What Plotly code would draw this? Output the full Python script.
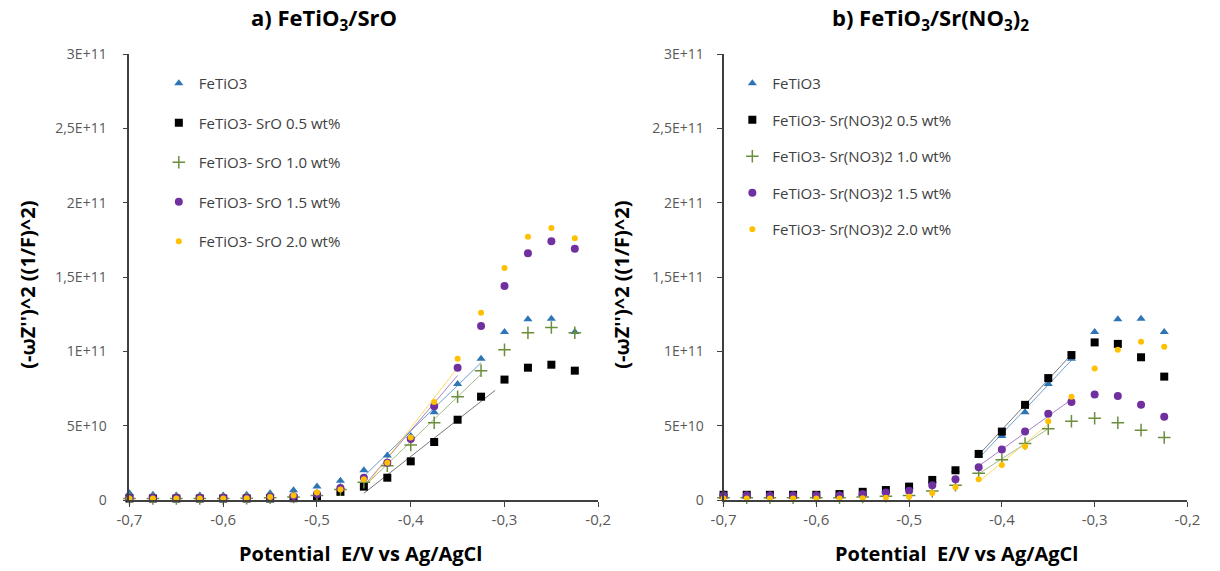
import numpy as np
import plotly.graph_objects as go

# ---------------- data (y values in units of 1E10) ----------------
UNIT = 1e10
potential = [-0.700, -0.675, -0.650, -0.625, -0.600, -0.575, -0.550, -0.525, -0.500, -0.475,
             -0.450, -0.425, -0.400, -0.375, -0.350, -0.325, -0.300, -0.275, -0.250, -0.225]

fetio3 = [0.45, 0.35, 0.30, 0.30, 0.30, 0.35, 0.45, 0.65, 0.90, 1.30,
          2.00, 3.00, 4.30, 5.90, 7.80, 9.50, 11.30, 12.15, 12.20, 11.30]

# panel a) FeTiO3/SrO
sro_05 = [0.10, 0.10, 0.10, 0.10, 0.10, 0.10, 0.10, 0.12, 0.20, 0.55,
          0.90, 1.50, 2.60, 3.90, 5.40, 6.95, 8.10, 8.90, 9.10, 8.70]
sro_10 = [0.10, 0.10, 0.10, 0.10, 0.10, 0.12, 0.15, 0.20, 0.30, 0.70,
          1.20, 2.30, 3.70, 5.20, 6.95, 8.70, 10.10, 11.25, 11.60, 11.25]
sro_15 = [0.15, 0.15, 0.15, 0.15, 0.15, 0.15, 0.20, 0.25, 0.40, 0.80,
          1.50, 2.50, 4.10, 6.30, 8.90, 11.70, 14.40, 16.60, 17.40, 16.90]
sro_20 = [0.10, 0.10, 0.10, 0.10, 0.10, 0.12, 0.20, 0.30, 0.50, 0.70,
          1.40, 2.50, 4.20, 6.60, 9.50, 12.60, 15.60, 17.70, 18.30, 17.60]

# panel b) FeTiO3/Sr(NO3)2
srno3_05 = [0.35, 0.35, 0.35, 0.35, 0.35, 0.40, 0.55, 0.67, 0.90, 1.35,
            2.00, 3.10, 4.60, 6.40, 8.20, 9.75, 10.60, 10.50, 9.60, 8.30]
srno3_10 = [0.15, 0.15, 0.15, 0.15, 0.15, 0.15, 0.20, 0.25, 0.30, 0.60,
            1.00, 1.80, 2.70, 3.80, 4.80, 5.30, 5.50, 5.20, 4.70, 4.20]
srno3_15 = [0.30, 0.30, 0.30, 0.30, 0.30, 0.30, 0.40, 0.50, 0.63, 1.00,
            1.40, 2.20, 3.40, 4.60, 5.80, 6.60, 7.10, 7.00, 6.40, 5.60]
srno3_20 = [0.10, 0.10, 0.10, 0.10, 0.10, 0.10, 0.12, 0.15, 0.22, 0.47,
            0.85, 1.40, 2.35, 3.60, 5.30, 6.95, 8.85, 10.10, 10.65, 10.30]

# linear-fit windows (potential range used for each trend line)
fit_a = {"fetio3": (-0.45, -0.325), "05": (-0.45, -0.31), "10": (-0.45, -0.325),
         "15": (-0.45, -0.35), "20": (-0.45, -0.35)}
fit_b = {"fetio3": (-0.425, -0.325), "05": (-0.425, -0.325), "10": (-0.425, -0.35),
         "15": (-0.425, -0.325), "20": (-0.425, -0.35)}

x_ticks = [-0.7, -0.6, -0.5, -0.4, -0.3, -0.2]
x_ticktext = ["-0,7", "-0,6", "-0,5", "-0,4", "-0,3", "-0,2"]
y_ticks = [0, 5e10, 1e11, 1.5e11, 2e11, 2.5e11, 3e11]
y_ticktext = ["0", "5E+10", "1E+11", "1,5E+11", "2E+11", "2,5E+11", "3E+11"]

# ---------------- styles ----------------
FONT = "'Open Sans', Lato, sans-serif"
styles = {
    "fetio3": dict(symbol="triangle-up", size=8, color="#2E75B6", line=dict(width=0)),
    "05": dict(symbol="square", size=8, color="#000000", line=dict(width=0)),
    "10": dict(symbol="cross-thin", size=9, color="#6B8E3D", line=dict(width=1.5, color="#6B8E3D")),
    "15": dict(symbol="circle", size=8, color="#7030A0", line=dict(width=0)),
    "20": dict(symbol="circle", size=6, color="#FFC000", line=dict(width=0)),
}
trend_colors = {"fetio3": "rgba(46,117,182,0.7)", "05": "rgba(60,60,60,0.7)",
                "10": "rgba(107,142,61,0.6)", "15": "rgba(112,48,160,0.6)",
                "20": "rgba(255,192,0,0.6)"}

fig = go.Figure()

panels = [
    ("x", "y", "legend", fit_a, [
        ("fetio3", "FeTiO3", fetio3),
        ("05", "FeTiO3- SrO 0.5 wt%", sro_05),
        ("10", "FeTiO3- SrO 1.0 wt%", sro_10),
        ("15", "FeTiO3- SrO 1.5 wt%", sro_15),
        ("20", "FeTiO3- SrO 2.0 wt%", sro_20),
    ]),
    ("x2", "y2", "legend2", fit_b, [
        ("fetio3", "FeTiO3", fetio3),
        ("05", "FeTiO3- Sr(NO3)2 0.5 wt%", srno3_05),
        ("10", "FeTiO3- Sr(NO3)2 1.0 wt%", srno3_10),
        ("15", "FeTiO3- Sr(NO3)2 1.5 wt%", srno3_15),
        ("20", "FeTiO3- Sr(NO3)2 2.0 wt%", srno3_20),
    ]),
]

px = np.array(potential)
for xa, ya, leg, fits, series in panels:
    # trend lines first (below markers)
    for key, name, vals in series:
        lo, hi = fits[key]
        v = np.array(vals) * UNIT
        m = (px >= lo - 1e-9) & (px <= min(hi, -0.325) + 1e-9)
        k, b = np.polyfit(px[m], v[m], 1)
        xs = np.array([lo, hi])
        fig.add_trace(go.Scatter(x=xs, y=k * xs + b, mode="lines", xaxis=xa, yaxis=ya,
                                 line=dict(color=trend_colors[key], width=1),
                                 showlegend=False, hoverinfo="skip"))
    for i, (key, name, vals) in enumerate(series):
        fig.add_trace(go.Scatter(x=potential, y=[v * UNIT for v in vals], mode="markers",
                                 name=name, xaxis=xa, yaxis=ya, legend=leg,
                                 legendgroup=f"{leg}_{i}", marker=styles[key],
                                 cliponaxis=False))

# empty helper traces so the label-only overlay axes get drawn
fig.add_trace(go.Scatter(x=[], y=[], xaxis="x", yaxis="y3", showlegend=False, hoverinfo="skip"))
fig.add_trace(go.Scatter(x=[], y=[], xaxis="x2", yaxis="y4", showlegend=False, hoverinfo="skip"))

W, H = 1220, 571
top, bottom = 54, 500
def py(p):
    return (bottom - p) / (bottom - top)

axis_common = dict(showgrid=False, zeroline=False, showline=True, linecolor="#404040", linewidth=1.5,
                   ticks="outside", ticklen=5, tickcolor="#404040", tickwidth=1.2)
xtick_font = dict(family=FONT, size=15, color="#595959")
ytick_font = dict(family=FONT, size=14, color="#595959")

def label_axis(over, anchor, gap):
    return dict(overlaying=over, anchor=anchor, side="left", range=[0, 3e11], tickvals=y_ticks,
                ticktext=y_ticktext, showgrid=False, zeroline=False, showline=False,
                ticks="outside", ticklen=gap, tickcolor="rgba(0,0,0,0)", tickfont=ytick_font)

fig.update_layout(
    width=W, height=H, margin=dict(l=0, r=0, t=top, b=H - bottom),
    paper_bgcolor="white", plot_bgcolor="white",
    xaxis=dict(domain=[119 / W, 598 / W], range=[-0.7, -0.2], tickvals=x_ticks, ticktext=x_ticktext,
               anchor="y", tickfont=xtick_font, **axis_common),
    yaxis=dict(domain=[0, 1], range=[0, 3e11], tickvals=y_ticks, showticklabels=False, anchor="x",
               **axis_common),
    xaxis2=dict(domain=[726 / W, 1200 / W], range=[-0.7, -0.2], tickvals=x_ticks, ticktext=x_ticktext,
                anchor="y2", tickfont=xtick_font, **axis_common),
    yaxis2=dict(domain=[0, 1], range=[0, 3e11], tickvals=y_ticks, showticklabels=False, anchor="x2",
                **axis_common),
    yaxis3=label_axis("y", "x", 19),
    yaxis4=label_axis("y2", "x2", 16),
    legend=dict(x=149 / W, y=py(67), xanchor="left", yanchor="top", bgcolor="rgba(0,0,0,0)",
                font=dict(family=FONT, size=15, color="#404040"), tracegroupgap=17),
    legend2=dict(x=735 / W, y=py(67), xanchor="left", yanchor="top", bgcolor="rgba(0,0,0,0)",
                 font=dict(family=FONT, size=15, color="#404040"), tracegroupgap=14),
    showlegend=True,
)

title_font = dict(family=FONT, size=22, color="#000000")
label_font = dict(family=FONT, size=20, color="#000000")
ytitle_font = dict(family=FONT, size=20, color="#000000")
ytitle = "<b>(-ωZ'')^2 ((1/F)^2)</b>"
xtitle = "<b>Potential  E/V vs Ag/AgCl</b>"
annotations = [
    dict(text="<b>a) FeTiO<sub>3</sub>/SrO</b>", x=318 / W, y=py(19), font=title_font),
    dict(text="<b>b) FeTiO<sub>3</sub>/Sr(NO<sub>3</sub>)<sub>2</sub></b>", x=937 / W, y=py(19), font=title_font),
    dict(text=xtitle, x=355 / W, y=py(553), font=label_font),
    dict(text=xtitle, x=964 / W, y=py(553), font=label_font),
    dict(text=ytitle, x=14 / W, y=py(285), font=ytitle_font, textangle=-90),
    dict(text=ytitle, x=621 / W, y=py(285), font=ytitle_font, textangle=-90),
]
for a in annotations:
    fig.add_annotation(xref="paper", yref="paper", showarrow=False, xanchor="center", yanchor="middle", **a)

fig.write_html("out.html")
